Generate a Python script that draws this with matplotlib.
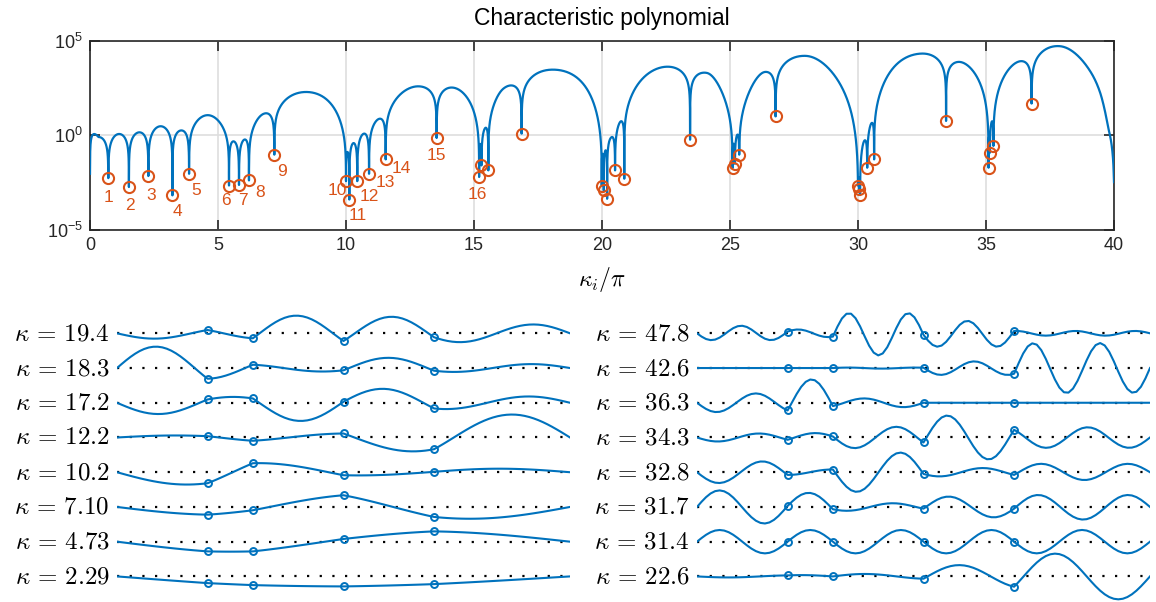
import numpy as np
import matplotlib
matplotlib.use("Agg")
import matplotlib.pyplot as plt

plt.rcParams['font.family'] = ['Liberation Sans', 'DejaVu Sans']
plt.rcParams['mathtext.fontset'] = 'cm'

# ---------------- data: characteristic polynomial (top) ----------------
root_x = [0.716, 1.52, 2.28, 3.22, 3.87, 5.43, 5.82, 6.21, 7.20,
          10.00, 10.13, 10.44, 10.90, 11.55, 13.54, 15.20, 15.29, 15.56,
          16.86, 19.99, 20.07, 20.20, 20.51, 20.87, 23.44, 25.10, 25.19,
          25.36, 26.78, 30.00, 30.04, 30.08, 30.36, 30.63, 33.44, 35.10,
          35.15, 35.29, 36.78]
root_logy = [-2.26, -2.73, -2.15, -3.17, -2.03, -2.65, -2.62, -2.38, -1.02,
             -2.42, -3.39, -2.42, -2.03, -1.27, -0.14, -2.20, -1.59, -1.85,
             0.09, -2.65, -2.91, -3.35, -1.85, -2.29, -0.23, -1.73, -1.50,
             -1.02, 1.00, -2.65, -2.86, -3.15, -1.71, -1.27, 0.76, -1.71,
             -0.92, -0.56, 1.68]
start_x, start_logy = 0.0, -2.03
end_x, end_logy = 40.0, -2.47
# root cluster at / just past the right edge (not marked)
end_roots = [40.0, 40.05, 40.12, 40.4, 40.7]
# points read on the curve (mostly lobe tops)
curve_x = [0.33, 1.11, 1.93, 2.74, 3.58, 4.66, 5.62, 6.02, 6.74, 8.40,
           10.26, 10.70, 11.33, 12.83, 14.26, 15.39, 16.15, 18.03, 20.14,
           20.38, 20.77, 22.46, 24.09, 25.27, 26.37, 27.93, 30.27, 30.53,
           32.49, 33.92, 35.22, 36.39, 37.89, 38.96, 39.45, 39.78]
curve_logy = [-0.09, 0.07, 0.16, 0.48, 0.26, 1.06, -0.32, -0.23, 1.11, 2.29,
              -0.44, 0.09, 0.88, 2.59, 2.50, 0.26, 2.47, 3.47, -0.79,
              -0.09, 0.74, 3.62, 3.30, 0.00, 3.35, 4.20, -0.26, 0.65,
              4.32, 3.88, 0.71, 3.92, 4.71, 3.61, 2.29, 0.35]
root_labels = [str(i) for i in range(1, 17)]
# label offsets in pixels (layout only)
label_offsets = [(0, -19), (1, -18), (3, -19), (5, -16), (7, -17), (-3, -15),
                 (4, -16), (11, -12), (8, -17), (-9, -9), (8, -16), (12, -15),
                 (16, -9), (16, -9), (0, -17), (-2, -18)]

# ---------------- data: mode shapes (bottom) ----------------
node_x = [0.0, 0.2, 0.3, 0.5, 0.7, 1.0]
left_labels = ["19.4", "18.3", "17.2", "12.2", "10.2", "7.10", "4.73", "2.29"]
right_labels = ["47.8", "42.6", "36.3", "34.3", "32.8", "31.7", "31.4", "22.6"]

left_nodes = [
    [3.3, -5.0, -7.7, -4.0],
    [-10.7, 3.3, -2.3, -2.7],
    [3.3, 4.3, 1.0, -5.7],
    [1.3, -3.3, 4.0, -11.7],
    [-11.0, 9.0, -3.0, 0.4],
    [-7.7, -3.3, 11.7, -10.0],
    [-9.7, -9.7, 2.7, 10.3],
    [-6.7, -8.7, -10.0, -7.7],
]
left_samples = [
    [(0.083, -6.7), (0.603, 17.0), (0.765, -9.0), (0.923, 8.3)],
    [(0.090, 21.0), (0.588, 10.7), (0.735, -3.7), (0.919, 5.0)],
    [(0.090, -11.3), (0.249, 5.3), (0.403, -18.3), (0.581, 12.7), (0.882, 5.3)],
    [(0.640, -12.7), (0.860, 21.7)],
    [(0.127, -11.7), (0.823, 3.3)],
    [(0.787, -11.7)],
    [],
    [],
]
right_nodes = [
    [1.7, -3.3, -1.5, 2.3],
    [0.0, 0.0, 0.3, -5.7],
    [-7.7, -3.3, 0.0, 0.0],
    [-2.3, 1.0, -5.0, 7.7],
    [-2.7, 2.7, -1.7, -2.7],
    [1.0, -2.3, -1.7, -1.7],
    [0.0, 0.0, 0.0, 0.0],
    [1.0, 0.0, -2.3, -10.3],
]
right_samples = [
    [(0.035, -7.0), (0.094, 5.7), (0.168, -7.7), (0.333, 20.0), (0.400, -21.0),
     (0.464, 20.0), (0.533, -13.7), (0.595, 12.3), (0.662, -13.7)],
    [(0.400, -1.3), (0.536, -6.0), (0.610, 5.7), (0.742, 24.0), (0.812, -25.0),
     (0.889, 24.7), (0.963, -25.0)],
    [(0.0425, -9.3), (0.127, 9.7), (0.252, 24.0), (0.363, 5.7), (0.436, -4.3)],
    [(0.054, -4.0), (0.135, 3.3), (0.252, 4.0), (0.355, -9.3), (0.422, 10.0),
     (0.551, 21.0), (0.783, -10.0), (0.860, 10.0), (0.941, -10.0)],
    [(0.046, -11.0), (0.146, 11.0), (0.249, 0.0), (0.352, -20.0), (0.444, 20.7),
     (0.536, -3.3), (0.632, 5.0), (0.761, 9.0), (0.857, -8.3), (0.952, 9.0)],
    [(0.046, 16.7), (0.149, -16.3), (0.249, 14.3), (0.348, -3.3), (0.422, 3.7),
     (0.555, 8.3), (0.650, -12.3), (0.757, 12.0), (0.853, -12.3), (0.952, 12.0)],
    [(0.05, 11.7), (0.15, -11.7), (0.25, 11.7), (0.35, -11.7), (0.45, 11.7),
     (0.55, -11.7), (0.65, 11.7), (0.75, -11.7), (0.85, 11.7), (0.95, -11.7)],
    [(0.392, 3.0), (0.566, 12.0), (0.790, 22.0), (0.900, -21.0)],
]

BLUE = '#0072BD'
ORANGE = '#D95319'
AXC = '#262626'
W, H = 1156, 602

fig = plt.figure(figsize=(W / 100, H / 100), dpi=100)

# ---------------- top panel ----------------
all_r = np.array([start_x] + root_x + end_roots)
vis_r = np.array([start_x] + root_x + [end_x])
vis_d = np.array([start_logy] + root_logy + [end_logy])
kk = np.arange(0.0, 40.0 + 1e-9, 0.004)


def log_prod(k):
    d = np.abs(k[:, None] - all_r[None, :])
    d = np.maximum(d, 1e-12)
    return np.log10(d).sum(axis=1)


def pchip(xq, xs, ys):
    xs = np.asarray(xs, float)
    ys = np.asarray(ys, float)
    h = np.diff(xs)
    dl = np.diff(ys) / h
    n = len(xs)
    m = np.zeros(n)
    for i in range(1, n - 1):
        if dl[i - 1] * dl[i] > 0:
            w1 = 2 * h[i] + h[i - 1]
            w2 = h[i] + 2 * h[i - 1]
            m[i] = (w1 + w2) / (w1 / dl[i - 1] + w2 / dl[i])
    m[0] = dl[0]
    m[-1] = dl[-1]
    xq = np.clip(xq, xs[0], xs[-1])
    idx = np.clip(np.searchsorted(xs, xq) - 1, 0, n - 2)
    t = (xq - xs[idx]) / h[idx]
    h00 = 2 * t ** 3 - 3 * t ** 2 + 1
    h10 = t ** 3 - 2 * t ** 2 + t
    h01 = -2 * t ** 3 + 3 * t ** 2
    h11 = t ** 3 - t ** 2
    return (h00 * ys[idx] + h10 * h[idx] * m[idx] + h01 * ys[idx + 1]
            + h11 * h[idx] * m[idx + 1])


cx = np.array(curve_x)
logE_pk = np.array(curve_logy) - log_prod(cx)
logY = pchip(kk, cx, logE_pk) + log_prod(kk)
for i, (r, dep) in enumerate(zip(vis_r, vis_d)):
    gaps = []
    if i > 0:
        gaps.append(r - vis_r[i - 1])
    if i < len(vis_r) - 1:
        gaps.append(vis_r[i + 1] - r)
    delta = min(0.04, 0.3 * min(gaps))
    m = np.abs(kk - r) < delta
    logY[m] = np.maximum(logY[m], dep)
kx = np.concatenate([kk, vis_r])
ky = np.concatenate([logY, vis_d])
order = np.argsort(kx, kind='stable')
kx, ky = kx[order], ky[order]

ax = fig.add_axes([90 / W, 1 - 230 / H, 1024 / W, 189.3 / H])
ax.semilogy(kx, 10.0 ** ky, color=BLUE, lw=1.6, zorder=3)
ax.plot(root_x, 10.0 ** np.array(root_logy), 'o', mfc='none', mec=ORANGE,
        ms=8, mew=1.5, zorder=4)
for i, lab in enumerate(root_labels):
    ax.annotate(lab, (root_x[i], 10.0 ** root_logy[i]), xytext=label_offsets[i],
                textcoords='offset pixels', ha='center', va='center',
                color=ORANGE, fontsize=12.5, zorder=5)
ax.set_xlim(0, 40)
ax.set_ylim(1e-5, 1e5)
ax.set_xticks(np.arange(0, 41, 5))
ax.set_yticks([1e-5, 1e0, 1e5])
ax.yaxis.set_minor_locator(matplotlib.ticker.NullLocator())
ax.grid(True, color='#dedede', lw=1.2)
ax.set_axisbelow(True)
for s in ax.spines.values():
    s.set_color(AXC)
    s.set_linewidth(1.2)
ax.tick_params(direction='in', length=7, width=1.2, top=True, right=True,
               labelsize=13, colors=AXC, pad=5)
ax.set_title('Characteristic polynomial', fontsize=16.5, color='black', pad=11)
ax.set_xlabel(r'$\kappa_i/\pi$', fontsize=17, labelpad=8)

# ---------------- bottom panels ----------------
def mode_curve(kappa, nodes, samples):
    v = [0.0] + list(nodes) + [0.0]
    X, Y = [], []
    for s in range(5):
        a, b = node_x[s], node_x[s + 1]
        L = b - a
        pts = [(a, v[s], 4.0), (b, v[s + 1], 4.0)]
        pts += [(x, y, 1.0) for (x, y) in samples if a < x < b]
        A = np.array([[w * np.cos(kappa * (x - a)), w * np.sin(kappa * (x - a))]
                      for (x, y, w) in pts])
        rhs = np.array([w * y for (x, y, w) in pts])
        coef = np.linalg.lstsq(A, rhs, rcond=None)[0]
        x = np.linspace(a, b, max(int(round(L / 0.01)), 2) + 1)
        f = lambda t: coef[0] * np.cos(kappa * (t - a)) + coef[1] * np.sin(kappa * (t - a))
        y = f(x)
        y += (v[s] - f(a)) * (b - x) / L + (v[s + 1] - f(b)) * (x - a) / L
        if s > 0:
            x, y = x[1:], y[1:]
        X.append(x)
        Y.append(y)
    return np.concatenate(X), np.concatenate(Y)


def draw_column(x0, labels, nodes_list, samples_list):
    bax = fig.add_axes([x0 / W, 0, 453 / W, (H - 300) / H])
    bax.set_xlim(0, 1)
    bax.set_ylim(-H, -300)
    bax.axis('off')
    for i, lab in enumerate(labels):
        base = -(333.3 + 34.73 * i)
        kap = float(lab)
        bax.plot([0, 1], [base, base], color='black', lw=1.6,
                 dashes=(1.0, 4.7), zorder=1)
        xs, ys = mode_curve(kap, nodes_list[i], samples_list[i])
        bax.plot(xs, base + ys, color=BLUE, lw=1.5, zorder=2)
        bax.plot(node_x[1:5], base + np.array(nodes_list[i]), 'o', mfc='none',
                 mec=BLUE, ms=5, mew=1.4, zorder=3)
        bax.text(-0.016, base, r'$\kappa\,=\,%s$' % lab, ha='right', va='center',
                 fontsize=18, clip_on=False)


draw_column(117, left_labels, left_nodes, left_samples)
draw_column(697, right_labels, right_nodes, right_samples)

fig.savefig('out.png', dpi=100)
